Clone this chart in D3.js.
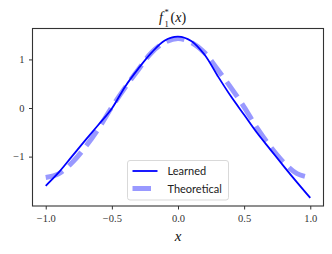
<!DOCTYPE html>
<html>
<head>
<meta charset="utf-8">
<script src="https://cdn.jsdelivr.net/npm/d3@7"></script>
<style>
  body { margin: 0; background: #fff; }
  svg { display: block; }
  .serif { font-family: "Liberation Serif", "DejaVu Serif", serif; }
  .sans { font-family: Lato, "DejaVu Sans", sans-serif; }
</style>
</head>
<body>
<div id="chart"></div>
<script>
// values
const xs = [-1, -0.9, -0.8, -0.7, -0.6, -0.5, -0.4, -0.3, -0.2, -0.1, 0,
            0.1, 0.2, 0.3, 0.4, 0.5, 0.6, 0.7, 0.8, 0.9, 1];
const learned = [-1.60, -1.32, -0.99, -0.66, -0.34, -0.01, 0.44, 0.81, 1.14, 1.39, 1.47,
                 1.38, 1.10, 0.66, 0.24, -0.14, -0.52, -0.86, -1.20, -1.53, -1.85];
const theoretical = [-1.43, -1.35, -1.12, -0.80, -0.42, 0.02, 0.42, 0.79, 1.14, 1.35, 1.43,
                     1.35, 1.14, 0.79, 0.42, 0.02, -0.42, -0.80, -1.12, -1.35, -1.43];
const xTicks = [-1, -0.5, 0, 0.5, 1];
const xTickLabels = ['\u22121.0', '\u22120.5', '0.0', '0.5', '1.0'];
const yTicks = [-1, 0, 1];
const yTickLabels = ['\u22121', '0', '1'];
const seriesNames = ['Learned', 'Theoretical'];

const width = 332, height = 254;
const margin = { top: 28.5, right: 8.5, bottom: 48, left: 32.5 };

const svg = d3.select('#chart').append('svg')
    .attr('width', width)
    .attr('height', height);

// matplotlib style 5% padding
const xExt = d3.extent(xs);
const yExt = d3.extent(learned.concat(theoretical));
const xPad = (xExt[1] - xExt[0]) * 0.05;
const yPad = (yExt[1] - yExt[0]) * 0.05;

const x = d3.scaleLinear()
    .domain([xExt[0] - xPad, xExt[1] + xPad])
    .range([margin.left, width - margin.right]);
const y = d3.scaleLinear()
    .domain([yExt[0] - yPad, yExt[1] + yPad])
    .range([height - margin.bottom, margin.top]);

const line = d3.line()
    .x(d => x(d[0]))
    .y(d => y(d[1]))
    .curve(d3.curveCatmullRom.alpha(0.5));

svg.append('clipPath').attr('id', 'clip')
    .append('rect')
    .attr('x', margin.left).attr('y', margin.top)
    .attr('width', width - margin.left - margin.right)
    .attr('height', height - margin.top - margin.bottom);

const plot = svg.append('g').attr('clip-path', 'url(#clip)');

plot.append('path')
    .datum(xs.map((v, i) => [v, learned[i]]))
    .attr('d', line)
    .attr('fill', 'none')
    .attr('stroke', '#0000ff')
    .attr('stroke-width', 1.8);

plot.append('path')
    .datum(xs.map((v, i) => [v, theoretical[i]]))
    .attr('d', line)
    .attr('fill', 'none')
    .attr('stroke', '#0000ff')
    .attr('stroke-opacity', 0.4)
    .attr('stroke-width', 5)
    .attr('stroke-dasharray', '18.5 8');

// axes
const xAxis = svg.append('g')
    .attr('transform', `translate(0,${height - margin.bottom})`)
    .call(d3.axisBottom(x).tickValues(xTicks).tickSize(3.5).tickPadding(5.5)
        .tickFormat((d, i) => xTickLabels[i]));
const yAxis = svg.append('g')
    .attr('transform', `translate(${margin.left},0)`)
    .call(d3.axisLeft(y).tickValues(yTicks).tickSize(3.5).tickPadding(4.5)
        .tickFormat((d, i) => yTickLabels[i]));

[xAxis, yAxis].forEach(a => {
    a.attr('font-family', null).attr('font-size', null).attr('class', 'serif');
    a.select('.domain').remove();
    a.selectAll('line').attr('stroke', '#333').attr('stroke-width', 1);
    a.selectAll('text').attr('fill', '#333').style('font-size', '10.5px');
});

// frame
svg.append('rect')
    .attr('x', margin.left).attr('y', margin.top)
    .attr('width', width - margin.left - margin.right)
    .attr('height', height - margin.top - margin.bottom)
    .attr('fill', 'none')
    .attr('stroke', '#333')
    .attr('stroke-width', 1.1);

// title f_1^*(x), pieces placed side by side
const tx = (margin.left + width - margin.right) / 2;
const title = svg.append('g').attr('class', 'serif').attr('fill', '#111');
title.append('text').attr('x', tx - 19).attr('y', 22)
    .style('font-size', '14px').style('font-style', 'italic').text('f');
title.append('text').attr('x', tx - 13.5).attr('y', 26.5)
    .style('font-size', '8.5px').text('1');
title.append('text').attr('x', tx - 13.5).attr('y', 15)
    .style('font-size', '8.5px').text('*');
title.append('text').attr('x', tx - 7.5).attr('y', 22)
    .style('font-size', '14px').text('(');
const tParen = title.append('text').attr('x', tx - 2.8).attr('y', 22)
    .style('font-size', '14px');
tParen.append('tspan').style('font-style', 'italic').text('x');
tParen.append('tspan').text(')');

// x label
svg.append('text')
    .attr('class', 'serif')
    .attr('x', tx)
    .attr('y', 241)
    .attr('text-anchor', 'middle')
    .style('font-size', '15px')
    .style('font-style', 'italic')
    .attr('fill', '#111')
    .text('x');

// legend
const leg = svg.append('g').attr('transform', 'translate(127.5,160.5)');
leg.append('rect')
    .attr('width', 101).attr('height', 39.5)
    .attr('rx', 2.5)
    .attr('fill', '#fff').attr('fill-opacity', 0.8)
    .attr('stroke', '#d9d9d9').attr('stroke-width', 1);
leg.append('line')
    .attr('x1', 5).attr('x2', 30).attr('y1', 10.5).attr('y2', 10.5)
    .attr('stroke', '#0000ff').attr('stroke-width', 1.8);
leg.append('line')
    .attr('x1', 5).attr('x2', 30).attr('y1', 28).attr('y2', 28)
    .attr('stroke', '#0000ff').attr('stroke-opacity', 0.4)
    .attr('stroke-width', 5).attr('stroke-dasharray', '18.5 8');
leg.selectAll('text.lbl')
    .data(seriesNames)
    .join('text')
    .attr('class', 'lbl sans')
    .attr('x', 40)
    .attr('y', (d, i) => 14.5 + i * 17.5)
    .style('font-size', '11px')
    .attr('fill', '#222')
    .text(d => d);
</script>
</body>
</html>
